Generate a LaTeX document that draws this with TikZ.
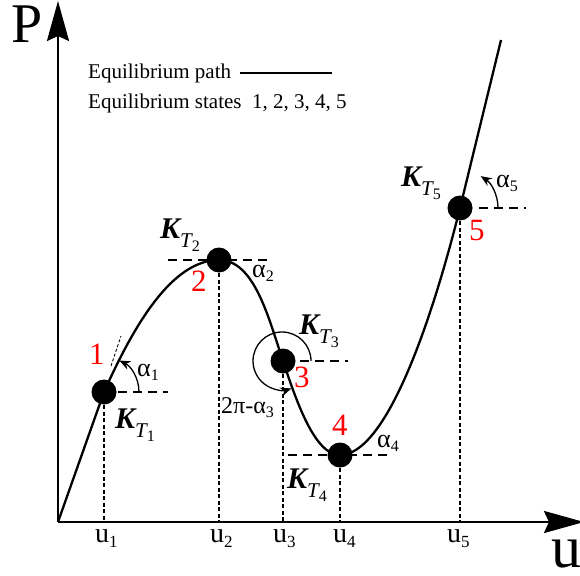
\documentclass[tikz,border=0pt]{standalone}
\usepackage{fontspec}
\setmainfont{Liberation Serif}
\usetikzlibrary{arrows.meta}
\newcommand{\fsz}[1]{\fontsize{#1}{#1}\selectfont}
\newcommand{\KTlab}[1]{{\bfseries\itshape K}\raisebox{-9pt}{\fsz{21}\itshape T\raisebox{-4pt}{\fsz{16}\upshape #1}}}
\newcommand{\alab}[1]{α\raisebox{-4pt}{\fsz{16}#1}}
\begin{document}
\begin{tikzpicture}[x=1pt,y=-1pt,
  axis/.style={line width=2.4pt,-{Stealth[length=40pt,width=22pt,inset=5pt]}},
  path line/.style={line width=2.3pt},
  hdash/.style={line width=1.1pt,dash pattern=on 9pt off 6pt},
  vdash/.style={line width=1.1pt,dash pattern=on 4pt off 2.5pt},
  tdash/.style={line width=0.9pt,dash pattern=on 3pt off 2pt},
  eqpt/.style={circle,fill=black,inner sep=0pt,minimum size=25pt},
  angarc/.style={line width=1.3pt,-{Stealth[length=11pt,width=9pt]}},
  redlab/.style={text=red,font=\fsz{31},inner sep=0pt,anchor=base west},
  klab/.style={font=\fsz{30},inner sep=0pt,anchor=base west},
  alabel/.style={font=\fsz{26},inner sep=0pt,anchor=base west},
  ulab/.style={font=\fsz{28},inner sep=0pt,anchor=base west},
  leg/.style={font=\fsz{21},inner sep=0pt,anchor=base west}]
\useasboundingbox (0,0) rectangle (580,575);
% coordinates
\coordinate (O) at (58,522);
\coordinate (Ytip) at (58,1);
\coordinate (Xtip) at (584,522);
\coordinate (c1) at (104,392);
\coordinate (c2) at (219,260);
\coordinate (c3) at (283,361);
\coordinate (c4) at (340,455);
\coordinate (c5) at (460,208);
\coordinate (top) at (501,40);
% axes
\draw[axis] (O) -- (Ytip);
\draw[axis] (O) -- (Xtip);
% axis foot points
\coordinate (f1) at (104,522);
\coordinate (f2) at (219,522);
\coordinate (f3) at (283,522);
\coordinate (f4) at (340,522);
\coordinate (f5) at (460,522);
\draw[vdash] (c1) -- (f1);
\draw[vdash] (c2) -- (f2);
\draw[vdash] (c3) -- (f3);
\draw[vdash] (c4) -- (f4);
\draw[vdash] (c5) -- (f5);
% horizontal dashed references
\coordinate (h1a) at (118,392); \coordinate (h1b) at (168,392);
\coordinate (h2a) at (168,260); \coordinate (h2b) at (270,260);
\coordinate (h3a) at (300,361); \coordinate (h3b) at (348,361);
\coordinate (h4a) at (288,455); \coordinate (h4b) at (392,455);
\coordinate (h5a) at (479,208); \coordinate (h5b) at (526,208);
\draw[hdash] (h1a) -- (h1b);
\draw[hdash] (h2a) -- (h2b);
\draw[hdash] (h3a) -- (h3b);
\draw[hdash] (h4a) -- (h4b);
\draw[hdash] (h5a) -- (h5b);
% tangent at 1
\coordinate (t1a) at (111,366); \coordinate (t1b) at (121,336);
\draw[tdash] (t1a) -- (t1b);
% equilibrium path
\draw[path line] (O) -- (c1)
  .. controls (134,325) and (172,260) .. (c2)
  .. controls (254,260) and (268,316) .. (c3)
  .. controls (297,403) and (315,455) .. (c4)
  .. controls (385,455) and (430,328) .. (c5)
  -- (top);
% points
\node[eqpt] (p1) at (c1) {};
\node[eqpt] (p2) at (c2) {};
\node[eqpt] (p3) at (c3) {};
\node[eqpt] (p4) at (c4) {};
\node[eqpt] (p5) at (c5) {};
% angle arcs
\draw[angarc] ([shift={(0:35)}]p1.center) arc[start angle=0,end angle=-64,radius=35];
\draw[angarc] ([shift={(0:38)}]p5.center) arc[start angle=0,end angle=-57,radius=38];
\draw[angarc] ([shift={(0:28)}]p3.center) arc[start angle=0,end angle=-289,radius=29];
% labels
\node[redlab] (n1) at (89,364) {1};
\node[redlab] (n2) at (191,291) {2};
\node[redlab] (n3) at (294,387) {3};
\node[redlab] (n4) at (332,435) {4};
\node[redlab] (n5) at (469,240) {5};
\node[klab] (k1) at (115,428) {\KTlab{1}};
\node[klab] (k2) at (160,238) {\KTlab{2}};
\node[klab] (k3) at (299,334) {\KTlab{3}};
\node[klab] (k4) at (287,488) {\KTlab{4}};
\node[klab] (k5) at (401,186) {\KTlab{5}};
\node[alabel] (a1) at (137,376) {\alab{1}};
\node[alabel] (a2) at (252,277) {\alab{2}};
\node[alabel] (a4) at (377,447) {\alab{4}};
\node[alabel] (a5) at (496,187) {\alab{5}};
\node[font=\fsz{24},inner sep=0pt,anchor=base west] (a3) at (221,413) {2π-\alab{3}};
\node[ulab] (u1) at (95,542) {u\raisebox{-5pt}{\fsz{17}1}};
\node[ulab] (u2) at (210,542) {u\raisebox{-5pt}{\fsz{17}2}};
\node[ulab] (u3) at (273,542) {u\raisebox{-5pt}{\fsz{17}3}};
\node[ulab] (u4) at (333,542) {u\raisebox{-5pt}{\fsz{17}4}};
\node[ulab] (u5) at (447,542) {u\raisebox{-5pt}{\fsz{17}5}};
\node[font=\fsz{56},inner sep=0pt,anchor=base west] (P) at (11,43) {P};
\node[font=\fsz{60},inner sep=0pt,anchor=base west] (U) at (551,567) {u};
% legend
\node[leg] (l1) at (88,79) {Equilibrium path};
\coordinate (la) at (240,73); \coordinate (lb) at (332,73);
\draw[line width=2pt] (la) -- (lb);
\node[leg] (l2) at (88,108) {Equilibrium states\ \ 1, 2, 3, 4, 5};
\end{tikzpicture}
\end{document}
